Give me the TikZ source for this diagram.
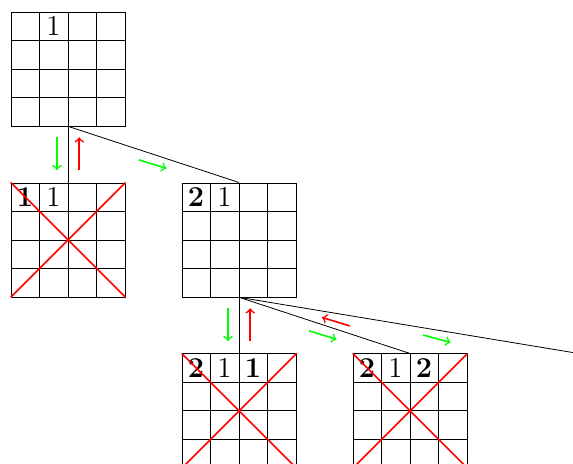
\documentclass[tikz,border=0pt]{standalone}
\usepackage{tikz}
\usetikzlibrary{arrows,calc,positioning}

\begin{document}
\begin{tikzpicture}[
  x=0.5cm,y=0.5cm,
  board/.style={draw,inner sep=0pt,minimum size=2cm,
    path picture={\draw (path picture bounding box.south west) grid[step=0.5cm] (path picture bounding box.north east);}},
  num/.style={inner sep=0pt,font=\Large},
  cross/.style={red,thick},
  fwd/.style={->,thick,color=green},
  back/.style={->,thick,color=red}
]
\useasboundingbox (-0.39,0.42) rectangle (19.72,-15.86);

\node[board] (b1) at (2,-2) {};
\node[board] (b2) at (2,-8) {};
\node[board] (b3) at (8,-8) {};
\node[board] (b4) at (8,-14) {};
\node[board] (b5) at (14,-14) {};
\coordinate (b6) at (20,-12);

% numbers
\node[num] (t1) at ($(b1.north west)+(1.5,-0.5)$) {1};
\node[num] (l1) at ($(b2.north west)+(0.5,-0.5)$) {$\mathbf{1}$};
\node[num] (l2) at ($(b2.north west)+(1.5,-0.5)$) {1};
\node[num] (r1) at ($(b3.north west)+(0.5,-0.5)$) {$\mathbf{2}$};
\node[num] (r2) at ($(b3.north west)+(1.5,-0.5)$) {1};
\node[num] (p1) at ($(b4.north west)+(0.5,-0.5)$) {$\mathbf{2}$};
\node[num] (p2) at ($(b4.north west)+(1.5,-0.5)$) {1};
\node[num] (p3) at ($(b4.north west)+(2.5,-0.5)$) {$\mathbf{1}$};
\node[num] (q1) at ($(b5.north west)+(0.5,-0.5)$) {$\mathbf{2}$};
\node[num] (q2) at ($(b5.north west)+(1.5,-0.5)$) {1};
\node[num] (q3) at ($(b5.north west)+(2.5,-0.5)$) {$\mathbf{2}$};

% crossed out
\foreach \b in {b2,b4,b5}
  \draw[cross] (\b.north west) -- (\b.south east) (\b.south west) -- (\b.north east);

% tree edges
\draw (b1.south) -- (b2.north) coordinate[pos=0.5] (m12);
\draw (b1.south) -- (b3.north) coordinate[pos=0.5] (m13);
\draw (b3.south) -- (b4.north) coordinate[pos=0.5] (m34);
\draw (b3.south) -- (b5.north) coordinate[pos=0.5] (m35);
\draw (b3.south) -- (b6) coordinate[pos=0.5] (m36);

% search steps
\draw[fwd] ($(m12)+(-0.39,0.6)$) -- ++(0,-1.15);
\draw[back] ($(m12)+(0.39,-0.55)$) -- ++(0,1.15);
\draw[fwd] ($(m13)+(-0.51,-0.19)$) -- ++(0.96,-0.3);
\draw[fwd] ($(m34)+(-0.39,0.6)$) -- ++(0,-1.15);
\draw[back] ($(m34)+(0.39,-0.55)$) -- ++(0,1.15);
\draw[fwd] ($(m35)+(-0.54,-0.19)$) -- ++(0.96,-0.3);
\draw[back] ($(m35)+(0.89,-0.02)$) -- ++(-0.98,0.3);
\draw[fwd] ($(m36)+(0.46,-0.33)$) -- ++(0.96,-0.26);
\end{tikzpicture}
\end{document}
